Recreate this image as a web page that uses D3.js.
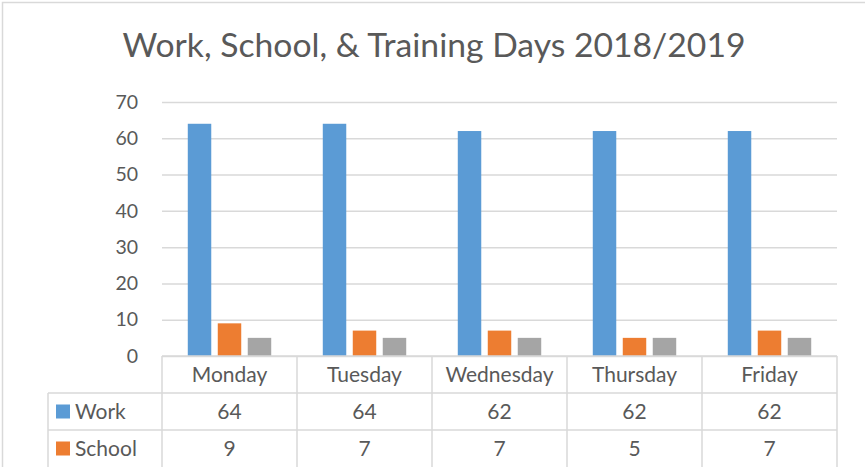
<!DOCTYPE html>
<html>
<head>
<meta charset="utf-8">
<script src="https://cdn.jsdelivr.net/npm/d3@7"></script>
<style>
  body { margin: 0; background: #fff; }
  svg { display: block; font-family: Lato, "Open Sans", sans-serif; }
</style>
</head>
<body>
<svg id="chart" width="865" height="467"></svg>
<script>
// data
const days = ["Monday", "Tuesday", "Wednesday", "Thursday", "Friday"];
const seriesNames = ["Work", "School", "Training"];
const work = [64, 64, 62, 62, 62];
const school = [9, 7, 7, 5, 7];
const training = [5, 5, 5, 5, 5];
const yTicks = [0, 10, 20, 30, 40, 50, 60, 70];
const colors = ["#5B9BD5", "#ED7D31", "#A5A5A5"];

const series = [work, school, training];
const svg = d3.select("#chart");

const plot = { left: 162, right: 837, top: 102, bottom: 356 };
const rowH = 37;

// outer border (top / left visible)
svg.append("path")
  .attr("d", "M2.5,467 L2.5,2.5 L865,2.5")
  .attr("fill", "none")
  .attr("stroke", "#d9d9d9")
  .attr("stroke-width", 1.5);

// title
svg.append("text")
  .attr("x", 434)
  .attr("y", 57)
  .attr("text-anchor", "middle")
  .attr("fill", "#595959")
  .style("font-size", "33.7px")
  .text("Work, School, & Training Days 2018/2019");

const x = d3.scaleBand().domain(days).range([plot.left, plot.right]);
const y = d3.scaleLinear().domain([0, 70]).range([plot.bottom, plot.top]);
const xInner = d3.scaleBand()
  .domain(seriesNames)
  .range([0, x.bandwidth()])
  .paddingInner(0.217)
  .paddingOuter(0.86);

// gridlines
svg.append("g")
  .attr("transform", `translate(${plot.left},0)`)
  .call(d3.axisLeft(y).tickValues(yTicks).tickSize(-(plot.right - plot.left)).tickFormat(""))
  .call((g) => g.select(".domain").remove())
  .call((g) => g.selectAll("line").attr("stroke", "#d9d9d9").attr("stroke-width", 1.5));

// y axis labels
svg.append("g")
  .attr("transform", `translate(${plot.left - 24},0)`)
  .call(d3.axisLeft(y).tickValues(yTicks).tickSize(0).tickPadding(0))
  .call((g) => g.select(".domain").remove())
  .call((g) => g.selectAll("text")
    .attr("fill", "#595959")
    .style("font-size", "19.5px")
    .style("font-family", "Lato, sans-serif"));

// bars
series.forEach((vals, si) => {
  svg.append("g")
    .selectAll("rect")
    .data(vals)
    .enter()
    .append("rect")
    .attr("x", (d, i) => x(days[i]) + xInner(seriesNames[si]))
    .attr("y", (d) => y(d))
    .attr("width", xInner.bandwidth())
    .attr("height", (d) => y(0) - y(d))
    .attr("fill", colors[si]);
});

// data table
const table = svg.append("g");
const lineColor = "#d9d9d9";
const tableLeft = 48;
const rowsY = [plot.bottom, plot.bottom + rowH, plot.bottom + rowH * 2, 467];

// horizontal lines
table.append("line")
  .attr("x1", plot.left).attr("x2", plot.right)
  .attr("y1", rowsY[0]).attr("y2", rowsY[0])
  .attr("stroke", lineColor).attr("stroke-width", 1.5);
[rowsY[1], rowsY[2]].forEach((yy) => {
  table.append("line")
    .attr("x1", tableLeft).attr("x2", plot.right)
    .attr("y1", yy).attr("y2", yy)
    .attr("stroke", lineColor).attr("stroke-width", 1.5);
});

// vertical lines
const colEdges = days.map((d) => x(d)).concat([plot.right]);
colEdges.forEach((xx) => {
  table.append("line")
    .attr("x1", xx).attr("x2", xx)
    .attr("y1", rowsY[0]).attr("y2", 467)
    .attr("stroke", lineColor).attr("stroke-width", 1.5);
});
table.append("line")
  .attr("x1", tableLeft).attr("x2", tableLeft)
  .attr("y1", rowsY[1]).attr("y2", 467)
  .attr("stroke", lineColor).attr("stroke-width", 1.5);

// header row
table.selectAll(".hdr")
  .data(days)
  .enter()
  .append("text")
  .attr("x", (d) => x(d) + x.bandwidth() / 2)
  .attr("y", rowsY[0] + rowH / 2)
  .attr("dy", "0.35em")
  .attr("text-anchor", "middle")
  .attr("fill", "#595959")
  .style("font-size", "21px")
  .text((d) => d);

// value rows
[work, school].forEach((vals, si) => {
  const cy = rowsY[si + 1] + rowH / 2;
  table.append("rect")
    .attr("x", 56)
    .attr("y", cy - 7)
    .attr("width", 14)
    .attr("height", 14)
    .attr("fill", colors[si]);
  table.append("text")
    .attr("x", 75)
    .attr("y", cy)
    .attr("dy", "0.35em")
    .attr("fill", "#595959")
    .style("font-size", "21px")
    .text(seriesNames[si]);
  table.selectAll(".v" + si)
    .data(vals)
    .enter()
    .append("text")
    .attr("x", (d, i) => x(days[i]) + x.bandwidth() / 2)
    .attr("y", cy)
    .attr("dy", "0.35em")
    .attr("text-anchor", "middle")
    .attr("fill", "#595959")
    .style("font-size", "21px")
    .text((d) => d);
});
</script>
</body>
</html>
